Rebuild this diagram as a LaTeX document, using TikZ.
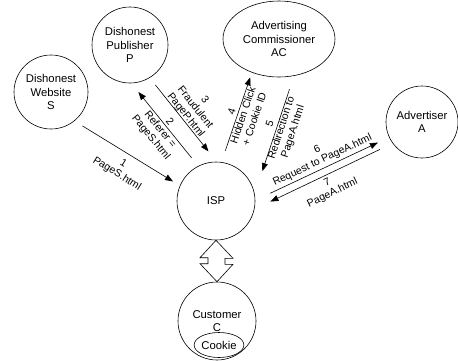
\documentclass[tikz,border=0pt]{standalone}
\usepackage{fontspec}
\setmainfont{Liberation Sans}
\usetikzlibrary{shapes.geometric,arrows.meta}

\tikzset{
  party/.style={circle, draw, line width=0.6pt, minimum size=78pt, inner sep=0pt,
    align=center, font=\fontsize{11.3}{13.3}\selectfont},
  msg/.style={-{Triangle[length=8pt,width=6pt]}, line width=0.6pt},
  msglabel/.style={align=center, inner sep=0pt, font=\fontsize{10.5}{12}\selectfont}
}

\begin{document}
\begin{tikzpicture}[x=1pt,y=-1pt]
\useasboundingbox (0,0) rectangle (458,360);

% parties
\node[party, minimum size=74pt] (site) at (51,92) {Dishonest\\Website\\S};
\node[party, minimum size=76pt] (pub) at (130,45) {Dishonest\\Publisher\\P};
\node[party, ellipse, minimum width=112pt, minimum height=76pt] (ac) at (279,39) {Advertising\\Commissioner\\AC};
\node[party, minimum size=72pt] (adv) at (422,122) {Advertiser\\A};
\node[party] (isp) at (216,201) {ISP};
\node[party] (cust) at (217,321) {Customer\\C};
\node[party, ellipse, minimum width=48pt, minimum height=25pt] (cookie) at (219,345) {Cookie};

% messages
\draw[msg, shorten <=9.5pt, shorten >=8pt] (site.-51.7) -- (isp.157.8);
\draw[msg, shorten <=10.3pt, shorten >=11.2pt] (isp.117.3) -- (pub.-88);
\draw[msg, shorten <=9.2pt, shorten >=13.2pt] (pub.-59.6) -- (isp.89.7);
\draw[msg, shorten <=12pt, shorten >=5.1pt] (isp.82.4) -- (ac.-129.5);
\draw[msg, shorten <=14pt, shorten >=24.3pt] (ac.-68.6) -- (isp.10.2);
\draw[msg, shorten <=16.6pt, shorten >=12.3pt] (isp.1.3) -- (adv.-155.8);
\draw[msg, shorten <=14.1pt, shorten >=17.7pt] (adv.-144.5) -- (isp.-12.9);

\node[msglabel, rotate=-31.6] (l1) at (120,169) {1\\PageS.html};
\node[msglabel, rotate=-51] (l2) at (160,130) {2\\Referer =\\PageS.html};
\node[msglabel, rotate=-51.5] (l3) at (195,108) {3\\Fraudulent\\PageP.html};
\node[msglabel, rotate=71.3] (l4) at (243,115) {4\\Hidden Click\\+ Cookie ID};
\node[msglabel, rotate=72] (l5) at (282,128) {5\\Redirection to\\PageA.html};
\node[msglabel, rotate=25.3] (l6) at (320,155) {6\\Request to PageA.html};
\node[msglabel, rotate=25.7] (l7) at (330,188) {7\\PageA.html};

% ISP <-> customer
\draw[line width=0.6pt] (isp.south) -- ++(17,18) -- ++(-8,0) -- ++(0,6) -- ++(8,0)
  -- (cust.north) -- ++(-17,-18) -- ++(8,0) -- ++(0,-6) -- ++(-8,0) -- cycle;

\end{tikzpicture}
\end{document}
